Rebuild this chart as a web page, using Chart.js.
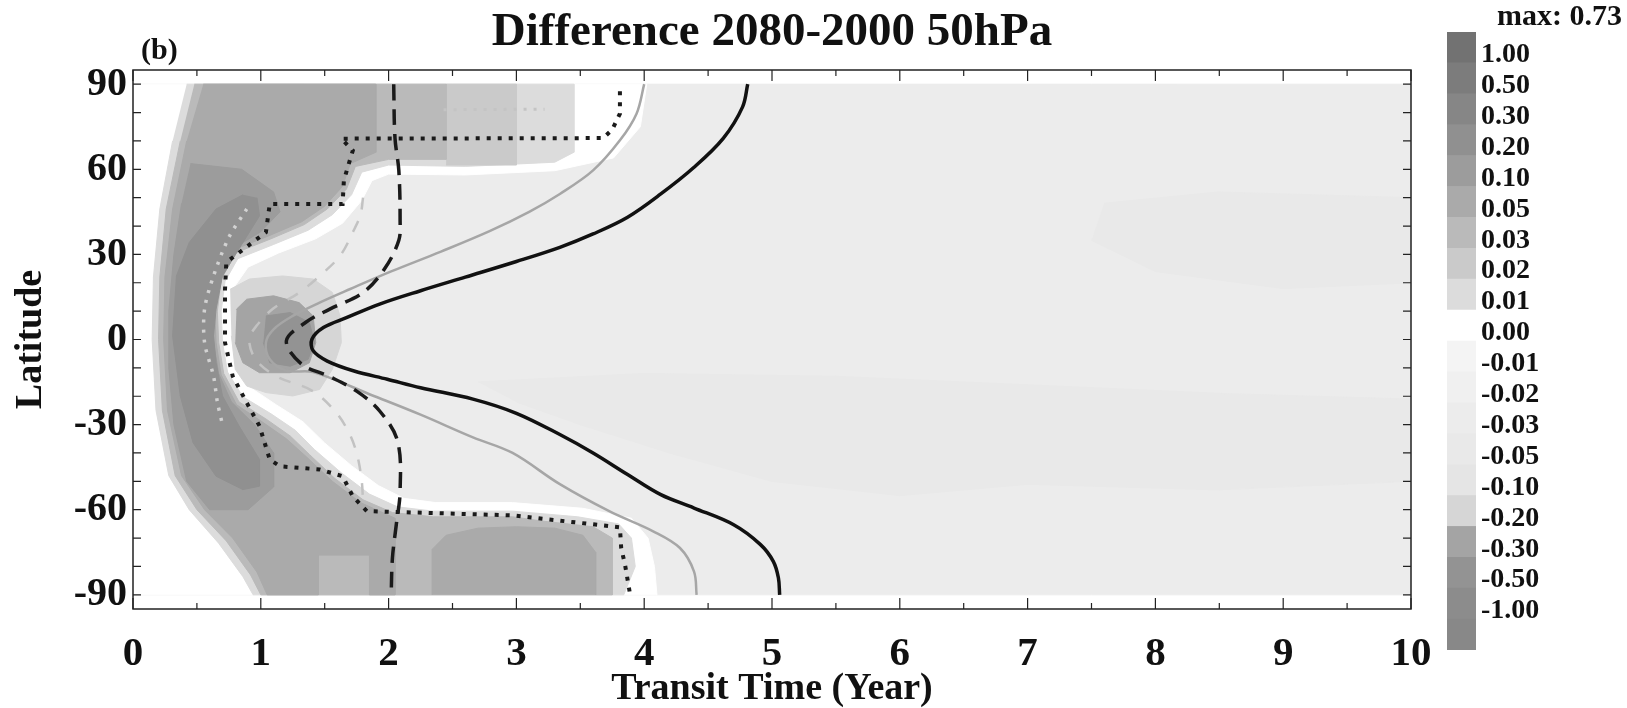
<!DOCTYPE html>
<html>
<head>
<meta charset="utf-8">
<script src="https://cdn.jsdelivr.net/npm/chart.js@4.4.1/dist/chart.umd.min.js"></script>
<style>
  html, body { margin: 0; padding: 0; background: #fff; }
  #wrap { position: relative; width: 1627px; height: 708px; }
  #main { position: absolute; left: 0; top: 0; }
  #bar { position: absolute; left: 1440px; top: 0; }
</style>
</head>
<body>
<div id="wrap">
  <canvas id="main" width="1627" height="708"></canvas>
  <canvas id="bar" width="187" height="708"></canvas>
</div>
<script>
// --- AXES & COLOUR BAR ---
const xTicks = [0, 1, 2, 3, 4, 5, 6, 7, 8, 9, 10];
const yTicks = [-90, -60, -30, 0, 30, 60, 90];
const cbLabels = ["1.00", "0.50", "0.30", "0.20", "0.10", "0.05", "0.03", "0.02", "0.01", "0.00",
                  "-0.01", "-0.02", "-0.03", "-0.05", "-0.10", "-0.20", "-0.30", "-0.50", "-1.00"];
const cbEdges = [1.0, 0.5, 0.3, 0.2, 0.1, 0.05, 0.03, 0.02, 0.01, 0,
                 -0.01, -0.02, -0.03, -0.05, -0.1, -0.2, -0.3, -0.5, -1.0];
const cbMax = "max: 0.73";

// --- SHADED REGIONS: [years, latitude] outlines ---
const fieldAll = [[0, 90], [10, 90], [10, -90], [0, -90]];
const patchSouth = [[2.7, -15], [4, -12], [5.5, -13], [7, -16], [8.5, -19], [10, -21], [10, -50], [8.5, -53],
                    [7, -51], [6, -55], [5, -50], [4.2, -40], [3.5, -30], [3, -22]];
const patchNorth = [[7.6, 48], [8.5, 52], [10, 50], [10, 20], [9, 18], [8, 24], [7.5, 35]];
const zeroZone = [[0, 90], [4.02, 90], [3.97, 75], [3.76, 64], [3.3, 59.5], [2.6, 58], [2.0, 58.3], [1.87, 56],
                  [1.79, 49], [1.64, 41], [1.43, 35.5], [1.14, 30.5], [0.9, 25.5], [0.8, 19], [0.77, 10],
                  [0.78, -1], [0.82, -9.5], [0.92, -17], [1.12, -23], [1.33, -29], [1.5, -36.5], [1.71, -44.5],
                  [1.92, -51.5], [2.12, -56], [2.37, -57.5], [2.97, -57.5], [3.52, -59.5], [3.9, -63],
                  [4.03, -70], [4.08, -80], [4.1, -90], [0, -90]];
const posOuter = [[0.42, 90], [3.45, 90], [3.45, 66], [3.3, 62.5], [2.6, 61], [2.0, 61.5], [1.79, 59], [1.71, 51],
                  [1.56, 44], [1.37, 38.5], [1.1, 33.5], [0.82, 28.5], [0.72, 20.5], [0.69, 10], [0.7, -1],
                  [0.74, -11.5], [0.86, -20.2], [1.08, -26.2], [1.27, -32], [1.42, -38.8], [1.63, -47],
                  [1.85, -54.5], [2.07, -59], [2.35, -60.5], [2.97, -60.5], [3.48, -62.5], [3.8, -65],
                  [3.9, -70], [3.93, -80], [3.84, -90], [0.94, -90], [0.86, -83.6], [0.67, -71.8], [0.44, -60],
                  [0.28, -48], [0.18, -25], [0.15, 0], [0.16, 22], [0.21, 46], [0.31, 70]];
const posTopCol = [[2.45, 90], [3.0, 90], [3.0, 61.5], [2.45, 61.5]];
const posSecond = [[0.48, 90], [2.45, 90], [2.45, 63.5], [2.0, 63.5], [1.74, 61], [1.67, 53], [1.52, 46],
                   [1.34, 40.5], [1.08, 35.5], [0.8, 30.5], [0.69, 21], [0.66, 10], [0.67, -1], [0.71, -12],
                   [0.83, -22], [1.04, -28], [1.23, -34], [1.38, -40.5], [1.58, -49], [1.8, -56.5], [2.03, -61],
                   [2.35, -62.5], [2.97, -62.5], [3.2, -64], [3.6, -66], [3.75, -70], [3.75, -90], [1.0, -90],
                   [0.92, -83], [0.73, -71], [0.5, -60], [0.33, -48], [0.23, -25], [0.2, 0], [0.21, 22],
                   [0.26, 46], [0.37, 70]];
const posMid = [[0.55, 90], [1.9, 90], [1.9, 66], [1.7, 62], [1.64, 54], [1.5, 47], [1.32, 41.5], [1.06, 36.5],
                [0.78, 31.5], [0.67, 21.5], [0.64, 10], [0.65, -1], [0.69, -12.5], [0.81, -23], [1.01, -29],
                [1.2, -35], [1.36, -41.5], [1.56, -50], [1.78, -57.5], [2.05, -63], [2.05, -90], [1.85, -90],
                [1.85, -76], [1.45, -76], [1.45, -90], [1.05, -90], [0.97, -82], [0.78, -70], [0.56, -60],
                [0.38, -48], [0.27, -25], [0.24, 0], [0.25, 22], [0.31, 46], [0.42, 70]];
const posBubble = [[2.34, -90], [2.34, -74], [2.45, -69], [2.7, -66.5], [3.0, -66], [3.3, -66.5], [3.52, -69],
                   [3.62, -75], [3.62, -90]];
const posInner = [[0.45, 62], [0.85, 60], [1.1, 52], [1.15, 45], [1.0, 38], [0.78, 32], [0.66, 22], [0.63, 10],
                  [0.63, -1], [0.67, -12], [0.77, -22], [0.95, -30], [1.1, -40], [1.1, -52], [0.9, -60],
                  [0.6, -60], [0.42, -50], [0.32, -30], [0.28, -10], [0.28, 10], [0.32, 30], [0.38, 48]];
const posCore = [[0.86, 51], [0.65, 46], [0.44, 34.2], [0.34, 22.4], [0.31, 1.3], [0.37, -19.9], [0.47, -36.4],
                 [0.65, -48.2], [0.86, -52.9], [0.99, -51.7], [0.99, -42.3], [0.83, -30.5], [0.7, -19.9],
                 [0.65, -8.2], [0.63, 1.3], [0.65, 10.7], [0.7, 22.4], [0.86, 34.2], [0.99, 43.6], [0.97, 50]];
const blobOuter = [[0.76, 17.7], [0.91, 21.3], [1.17, 22.4], [1.41, 21.3], [1.56, 16.6], [1.62, 8.3], [1.63, -1.1],
                   [1.56, -10.5], [1.46, -17.6], [1.25, -19.9], [1.04, -18.7], [0.89, -16.4], [0.8, -10.5],
                   [0.77, 1.3]];
const blobMid = [[0.81, 10.7], [0.89, 14.2], [1.1, 15.4], [1.3, 13], [1.41, 8.3], [1.43, -1.1], [1.38, -8.2],
                 [1.23, -11.7], [0.99, -11.7], [0.86, -8.2], [0.8, -1.1]];
const blobCore = [[1.04, 8.3], [1.23, 9.5], [1.38, 6], [1.42, -1.1], [1.37, -7], [1.23, -9.4], [1.07, -8.2],
                  [1.02, -1.1]];

// contour value each outline sits in (bottom layer first)
const regionList = [
  [fieldAll, -0.025], [patchSouth, -0.04], [patchNorth, -0.04], [zeroZone, 0.005],
  [posOuter, 0.015], [posTopCol, 0.025], [posSecond, 0.04], [posMid, 0.07], [posBubble, 0.07],
  [posInner, 0.15], [posCore, 0.25], [blobOuter, -0.15], [blobMid, -0.25], [blobCore, -0.4]
];

// --- CONTOUR LINES ---
const lineBlackSolid = [[4.81, 90], [4.77, 82], [4.62, 71], [4.39, 60.7], [4.13, 51.3], [3.87, 43.1], [3.6, 37.2],
  [3.34, 32.5], [3.0, 27.5], [2.6, 22.0], [2.25, 17.2], [1.93, 12.5], [1.67, 7.7], [1.49, 4.2], [1.4, 0.1],
  [1.41, -4], [1.52, -7.6], [1.73, -11.1], [1.99, -14], [2.25, -17], [2.66, -21], [3.0, -26], [3.34, -33.5],
  [3.6, -40], [3.87, -47.6], [4.13, -54.7], [4.39, -59.4], [4.7, -65.3], [4.91, -72.3], [5.01, -78.2],
  [5.05, -84], [5.06, -90]];
const lineGraySolid = [[4.0, 90], [3.94, 79.6], [3.81, 70.2], [3.6, 59.6], [3.34, 51.3], [3.1, 45], [2.79, 38.2],
  [2.41, 31], [2.02, 24], [1.7, 17.8], [1.46, 13], [1.25, 8.3], [1.1, 3.6], [1.04, -1.1], [1.07, -7], [1.2, -11],
  [1.41, -11.5], [1.89, -20], [2.25, -26.5], [2.66, -34.5], [2.97, -40], [3.34, -51], [3.73, -60.6],
  [4.07, -67.6], [4.28, -73.5], [4.39, -81.8], [4.41, -90]];
const lineBlackDash = [[2.04, 90], [2.05, 71], [2.08, 59.6], [2.09, 42], [2.08, 35], [1.97, 25], [1.8, 16.5],
  [1.54, 10.7], [1.35, 6], [1.2, -0.5], [1.32, -8.7], [1.53, -12.9], [1.75, -18.2], [1.93, -25.2], [2.07, -35.8],
  [2.09, -53.5], [2.06, -65.3], [2.03, -77], [2.02, -90]];
const lineGrayDash = [[1.8, 50], [1.78, 44], [1.72, 37.8], [1.62, 29.5], [1.46, 22.4], [1.3, 16.5], [1.1, 11],
  [0.97, 5], [0.91, 0], [0.96, -7], [1.12, -12.9], [1.4, -18], [1.57, -24.7], [1.68, -32], [1.75, -40],
  [1.79, -50], [1.8, -58]];
const lineBlackDot = [[3.81, 87.5], [3.81, 79.6], [3.75, 74], [3.68, 71], [1.63, 70.8], [1.72, 66.6],
  [1.68, 60.7], [1.65, 56], [1.64, 47.8], [1.07, 47.8], [1.04, 37.8], [0.73, 27.2], [0.72, 17.7], [0.72, -1.1],
  [0.78, -12.9], [0.89, -22.3], [0.99, -30.5], [1.07, -42.3], [1.15, -44.7], [1.46, -45.8], [1.64, -48.2],
  [1.72, -55.3], [1.83, -60.5], [2.97, -62], [3.81, -66.2], [3.82, -73.5], [3.85, -79.4], [3.89, -90]];
const lineLightDot = [[0.89, 46], [0.75, 36], [0.63, 22.4], [0.56, 10.7], [0.56, -1.1], [0.63, -12.9],
  [0.66, -22], [0.7, -30]];
const lineLightDotTop = [[2.43, 81], [3.22, 81.2]];

// --- STYLE ---
// one grey per colour-bar band, top (> 1.00) to bottom (< -1.00)
const bandColors = ['#727272', '#7c7c7c', '#868686', '#909090', '#9c9c9c', '#aaaaaa', '#bababa', '#cacaca',
                    '#dcdcdc', '#ffffff', '#f4f4f4', '#f0f0f0', '#ececec', '#e9e9e9', '#e5e5e5', '#d6d6d6',
                    '#a4a4a4', '#939393', '#8c8c8c', '#888888'];
const serif = '"Liberation Serif", "Times New Roman", serif';
Chart.defaults.font.family = serif;
Chart.defaults.color = '#111';

const toPts = arr => arr.map(p => ({ x: p[0], y: p[1] }));
const bandOf = v => cbEdges.filter(e => e > v).length;

const datasets = [];
regionList.forEach(([pts, level], i) => {
    const c = bandColors[bandOf(level)];
    datasets.push({
        data: toPts(pts), xAxisID: 'x', showLine: true, fill: 'shape',
        backgroundColor: c, borderColor: c, borderWidth: 1,
        pointRadius: 0, tension: 0, order: 100 - i
    });
});

const lineStyles = [
    { pts: lineLightDot, color: '#d2d2d2', width: 3.5, dash: [3, 7], tension: 0.3 },
    { pts: lineLightDotTop, color: '#c4c4c4', width: 3, dash: [3, 7], tension: 0 },
    { pts: lineGrayDash, color: '#c2c2c2', width: 2.5, dash: [12, 12], tension: 0.35 },
    { pts: lineGraySolid, color: '#a6a6a6', width: 2.5, dash: [], tension: 0.35 },
    { pts: lineBlackDot, color: '#1a1a1a', width: 4, dash: [4, 7], tension: 0 },
    { pts: lineBlackDash, color: '#1a1a1a', width: 3.5, dash: [16, 9], tension: 0.35 },
    { pts: lineBlackSolid, color: '#111111', width: 3.5, dash: [], tension: 0.35 }
];
lineStyles.forEach((s, i) => {
    datasets.push({
        data: toPts(s.pts), xAxisID: 'x', showLine: true, fill: false,
        borderColor: s.color, borderWidth: s.width, borderDash: s.dash,
        pointRadius: 0, tension: s.tension, order: 10 - i
    });
});

// border, inward ticks and the panel letter
const frame = {
    id: 'frame',
    afterDraw(chart) {
        const { ctx, chartArea: a, scales: { x, y } } = chart;
        ctx.save();
        ctx.strokeStyle = '#222';
        ctx.lineWidth = 1.5;
        ctx.strokeRect(a.left, a.top, a.right - a.left, a.bottom - a.top);
        ctx.lineWidth = 1.2;
        ctx.beginPath();
        for (let v = 0; v <= 10; v += 0.5) {
            const px = x.getPixelForValue(v);
            const len = Number.isInteger(v) ? 11 : 6;
            ctx.moveTo(px, a.bottom); ctx.lineTo(px, a.bottom - len);
            ctx.moveTo(px, a.top); ctx.lineTo(px, a.top + len);
        }
        for (let v = -90; v <= 90; v += 10) {
            const py = y.getPixelForValue(v);
            ctx.moveTo(a.left, py); ctx.lineTo(a.left + 8, py);
            ctx.moveTo(a.right, py); ctx.lineTo(a.right - 8, py);
        }
        ctx.stroke();
        ctx.font = 'bold 30px ' + serif;
        ctx.fillStyle = '#111';
        ctx.textBaseline = 'middle';
        ctx.fillText('(b)', a.left + 8, 51);
        ctx.restore();
    }
};

new Chart(document.getElementById('main'), {
    type: 'scatter',
    data: { datasets },
    options: {
        responsive: false, animation: false, events: [],
        layout: { padding: { left: 0, right: 216, top: 0, bottom: 0 } },
        plugins: { legend: { display: false }, tooltip: { enabled: false } },
        scales: {
            x: {
                type: 'linear', position: 'bottom', min: 0, max: 10,
                grid: { display: false, drawTicks: false }, border: { display: false },
                afterBuildTicks: s => { s.ticks = xTicks.map(v => ({ value: v })); },
                ticks: { font: { size: 41, weight: 'bold' }, padding: 21, maxRotation: 0, autoSkip: false },
                title: { display: true, text: 'Transit Time (Year)', font: { size: 38, weight: 'bold', lineHeight: 1 }, padding: 0 },
                afterFit: s => { s.height = 99; }
            },
            x2: {
                type: 'linear', position: 'top', min: 0, max: 10,
                grid: { display: false, drawTicks: false }, border: { display: false },
                ticks: { display: false },
                title: { display: true, text: 'Difference 2080-2000 50hPa', font: { size: 47, weight: 'bold', lineHeight: 1 }, padding: { top: 9, bottom: 0 } },
                afterFit: s => { s.height = 70; }
            },
            y: {
                type: 'linear', min: -95, max: 95,
                grid: { display: false, drawTicks: false }, border: { display: false },
                afterBuildTicks: s => { s.ticks = yTicks.map(v => ({ value: v })); },
                ticks: { font: { size: 40, weight: 'bold' }, padding: 6, autoSkip: false },
                title: { display: true, text: 'Latitude', font: { size: 38, weight: 'bold' }, padding: { top: 8 } },
                afterFit: s => { s.width = 133; }
            }
        }
    },
    plugins: [frame]
});

// --- COLOUR BAR ---
const bandSets = bandColors.map(c => ({
    data: [1], backgroundColor: c, borderWidth: 0, barPercentage: 1, categoryPercentage: 1
})).reverse();

new Chart(document.getElementById('bar'), {
    type: 'bar',
    data: { labels: [''], datasets: bandSets },
    options: {
        responsive: false, animation: false, events: [],
        layout: { padding: { left: 7, right: 5, top: 0, bottom: 58 } },
        plugins: {
            legend: { display: false }, tooltip: { enabled: false },
            title: { display: true, text: cbMax, align: 'end', font: { size: 30, weight: 'bold', lineHeight: 1 }, padding: { top: 2, bottom: 0 } }
        },
        scales: {
            x: { display: false, stacked: true },
            y: {
                position: 'right', stacked: true, min: 0, max: 20,
                grid: { display: false, drawTicks: false }, border: { display: false },
                afterBuildTicks: s => { s.ticks = cbLabels.map((t, i) => ({ value: 19 - i })); },
                ticks: { callback: v => cbLabels[19 - v], font: { size: 28, weight: 'bold' }, padding: 5, labelOffset: -8, autoSkip: false },
                afterFit: s => { s.width = 146; }
            }
        }
    }
});
</script>
</body>
</html>
